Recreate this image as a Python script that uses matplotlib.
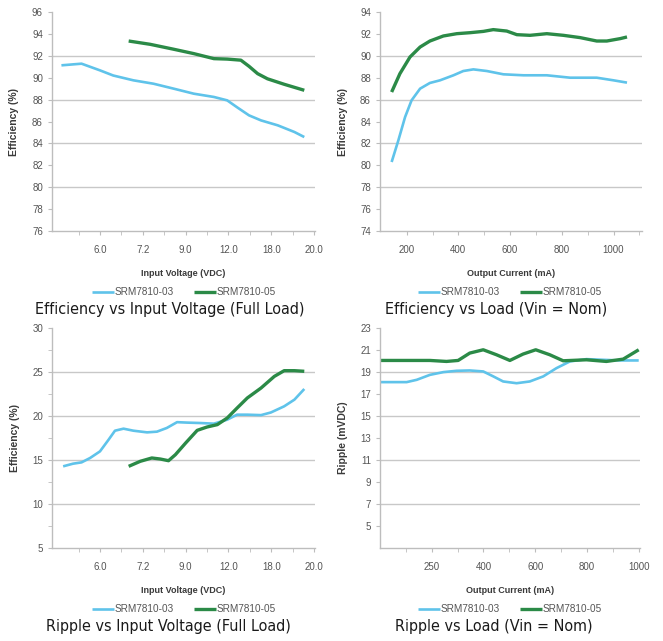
import matplotlib
matplotlib.use('Agg')
import matplotlib.pyplot as plt
from matplotlib import font_manager

W, H = 663, 641
BLUE = '#5fc3ea'
GREEN = '#2b8a47'
GRAY = '#bdbdbd'
TXT = '#555555'

plt.rcParams['font.family'] = ['Liberation Sans', 'DejaVu Sans']

# caption font: a condensed face if one is there
names = {f.name for f in font_manager.fontManager.ttflist}
cond = font_manager.findfont(font_manager.FontProperties(family='DejaVu Sans', stretch='condensed'))
if 'Liberation Sans Narrow' in names:
    CAP = dict(family='Liberation Sans Narrow', fontsize=12.5)
elif 'Condensed' in cond:
    CAP = dict(family='DejaVu Sans', fontstretch='condensed', fontsize=11.5)
else:
    CAP = dict(family='DejaVu Sans', fontsize=10.2)

series_names = ['SRM7810-03', 'SRM7810-05']

# --- efficiency vs input voltage (category axis positions) ---
vin_labels = ['6.0', '7.2', '9.0', '12.0', '18.0', '20.0']
eff_vin_x_03 = [0.1, 0.57, 1.0, 1.31, 1.78, 2.25, 2.72, 3.19, 3.66, 3.97, 4.2, 4.48, 4.76, 5.15, 5.54, 5.77]
eff_vin_y_03 = [91.13, 91.28, 90.67, 90.2, 89.76, 89.45, 89.0, 88.54, 88.24, 87.93, 87.3, 86.56, 86.1, 85.65, 85.04, 84.58]
eff_vin_x_05 = [1.67, 2.17, 2.72, 3.19, 3.66, 3.97, 4.29, 4.48, 4.68, 4.91, 5.3, 5.77]
eff_vin_y_05 = [93.35, 93.05, 92.6, 92.2, 91.74, 91.7, 91.6, 91.04, 90.37, 89.9, 89.4, 88.85]

# --- efficiency vs load (mA) ---
eff_load_x_03 = [142, 168, 194, 219, 252, 290, 329, 381, 419, 458, 510, 574, 652, 742, 832, 935, 1000, 1052]
eff_load_y_03 = [80.3, 82.28, 84.41, 85.93, 87.0, 87.52, 87.76, 88.22, 88.61, 88.76, 88.61, 88.31, 88.22, 88.22, 88.0, 88.0, 87.76, 87.55]
eff_load_x_05 = [142, 174, 213, 252, 290, 342, 394, 445, 497, 535, 587, 626, 677, 742, 806, 871, 935, 974, 1026, 1052]
eff_load_y_05 = [86.69, 88.37, 89.89, 90.8, 91.35, 91.81, 92.02, 92.11, 92.23, 92.39, 92.26, 91.93, 91.87, 92.02, 91.87, 91.66, 91.35, 91.35, 91.57, 91.72]

# --- ripple vs input voltage ---
rip_vin_x_03 = [0.14, 0.37, 0.57, 0.77, 1.0, 1.2, 1.35, 1.55, 1.78, 2.1, 2.33, 2.56, 2.8, 3.03, 3.35, 3.66, 3.97, 4.2, 4.44, 4.76, 4.99, 5.3, 5.54, 5.77]
rip_vin_y_03 = [14.28, 14.58, 14.73, 15.23, 15.98, 17.3, 18.33, 18.56, 18.33, 18.14, 18.22, 18.64, 19.3, 19.25, 19.2, 19.13, 19.58, 20.15, 20.15, 20.1, 20.4, 21.1, 21.86, 23.07]
rip_vin_x_05 = [1.67, 1.94, 2.21, 2.41, 2.6, 2.76, 3.0, 3.27, 3.5, 3.74, 3.97, 4.2, 4.44, 4.76, 5.07, 5.3, 5.54, 5.77]
rip_vin_y_05 = [14.28, 14.85, 15.23, 15.11, 14.92, 15.6, 16.93, 18.37, 18.75, 19.02, 19.77, 20.9, 22.05, 23.18, 24.5, 25.15, 25.15, 25.08]

# --- ripple vs load (category axis positions) ---
load_labels = ['250', '400', '600', '800', '1000']
rip_load_x_03 = [0, 1.03, 1.42, 1.93, 2.45, 2.96, 3.47, 3.99, 4.38, 4.76, 5.28, 5.79, 6.31, 6.82, 7.34, 7.98, 8.62, 9.27, 10.0]
rip_load_y_03 = [18.08, 18.08, 18.29, 18.74, 18.99, 19.11, 19.14, 19.05, 18.6, 18.14, 17.98, 18.14, 18.6, 19.35, 19.96, 20.17, 20.11, 20.05, 20.05]
rip_load_x_05 = [0, 1.03, 1.93, 2.57, 3.02, 3.47, 3.99, 4.5, 5.02, 5.53, 6.02, 6.56, 7.08, 7.98, 8.75, 9.4, 10.0]
rip_load_y_05 = [20.05, 20.05, 20.05, 19.96, 20.05, 20.72, 21.02, 20.57, 20.05, 20.63, 21.02, 20.57, 20.02, 20.11, 19.96, 20.17, 21.02]

fig = plt.figure(figsize=(W / 100, H / 100), dpi=100)


def make_ax(x0, x1, y0, y1):
    return fig.add_axes([x0 / W, 1 - y1 / H, (x1 - x0) / W, (y1 - y0) / H])


def style(ax, ylim, yticks, grid, ylabel, xlabel):
    ax.set_ylim(*ylim)
    ax.set_yticks(yticks)
    for g in grid:
        ax.axhline(g, color='#c8c8c8', lw=1.0, zorder=0)
    for s in ['top', 'right']:
        ax.spines[s].set_visible(False)
    for s in ['left', 'bottom']:
        ax.spines[s].set_color(GRAY)
        ax.spines[s].set_linewidth(1.0)
    ax.tick_params(which='both', direction='out', length=3, color=GRAY, labelcolor=TXT, labelsize=7)
    ax.tick_params(axis='x', which='both', pad=7)
    ax.set_ylabel(ylabel, fontsize=7.5, fontweight='bold', color='#3a3a3a', labelpad=9)
    ax.set_xlabel(xlabel, fontsize=6.5, fontweight='bold', color='#3a3a3a', labelpad=10)


def draw(ax, xa, ya, xb, yb, legend_xy):
    ax.plot(xa, ya, color=BLUE, lw=1.9, label=series_names[0], solid_capstyle='butt')
    ax.plot(xb, yb, color=GREEN, lw=2.4, label=series_names[1], solid_capstyle='butt')
    ax.legend(loc='center', bbox_to_anchor=(legend_xy[0] / W, 1 - legend_xy[1] / H),
              bbox_transform=fig.transFigure, ncol=2, frameon=False, fontsize=7.2,
              handlelength=2.2, handletextpad=0.1, columnspacing=2.0, labelcolor=TXT)


# top left
ax1 = make_ax(52, 315, 12, 231)
draw(ax1, eff_vin_x_03, eff_vin_y_03, eff_vin_x_05, eff_vin_y_05, (184, 292))
ax1.set_xlim(-0.12, 6.02)
ax1.set_xticks(range(1, len(vin_labels) + 1), vin_labels)
ax1.set_xticks([0.5 + i for i in range(6)], minor=True)
style(ax1, (76, 96), range(76, 97, 2), [80, 84, 88, 92], 'Efficiency (%)', 'Input Voltage (VDC)')

# top right
ax2 = make_ax(380, 642, 12, 231)
draw(ax2, eff_load_x_03, eff_load_y_03, eff_load_x_05, eff_load_y_05, (510, 292))
ax2.set_xlim(97, 1110)
ax2.set_xticks(range(200, 1001, 200))
ax2.set_xticks(range(300, 1101, 200), minor=True)
style(ax2, (74, 94), range(74, 95, 2), [78, 82, 86, 90], 'Efficiency (%)', 'Output Current (mA)')

# bottom left
ax3 = make_ax(52, 315, 328, 548)
draw(ax3, rip_vin_x_03, rip_vin_y_03, rip_vin_x_05, rip_vin_y_05, (184, 609))
ax3.set_xlim(-0.12, 6.02)
ax3.set_xticks(range(1, len(vin_labels) + 1), vin_labels)
ax3.set_xticks([0.5 + i for i in range(6)], minor=True)
style(ax3, (5, 30), range(5, 31, 5), [10, 15, 20, 25], 'Efficiency (%)', 'Input Voltage (VDC)')
ax3.set_yticks([7.5, 12.5, 17.5, 22.5, 27.5], minor=True)

# bottom right
ax4 = make_ax(380, 640, 328, 548)
draw(ax4, rip_load_x_03, rip_load_y_03, rip_load_x_05, rip_load_y_05, (510, 609))
ax4.set_xlim(0, 10.05)
ax4.set_xticks(range(2, 11, 2), load_labels)
ax4.set_xticks(range(1, 10, 2), minor=True)
style(ax4, (3, 23), range(5, 24, 2), [7, 11, 15, 19], 'Ripple (mVDC)', 'Output Current (mA)')

captions = [
    ('Efficiency vs Input Voltage (Full Load)', 170, 310),
    ('Efficiency vs Load (Vin = Nom)', 496, 310),
    ('Ripple vs Input Voltage (Full Load)', 168, 627),
    ('Ripple vs Load (Vin = Nom)', 494, 627),
]
for text, cx, cy in captions:
    fig.text(cx / W, 1 - cy / H, text, ha='center', va='center', color='#1a1a1a', **CAP)

fig.savefig('out.png', dpi=100)
